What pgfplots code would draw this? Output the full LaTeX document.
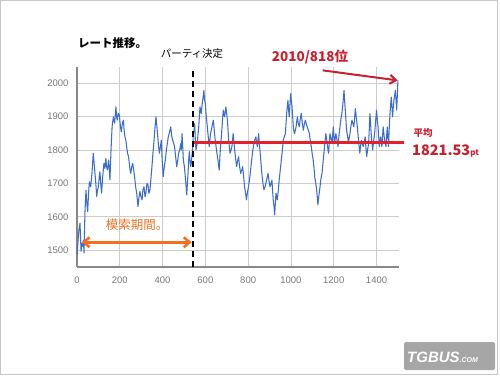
\documentclass[border=0pt]{standalone}
\usepackage{pgfplots}
\pgfplotsset{compat=1.18}
\usetikzlibrary{arrows.meta}
\usepackage{fontspec}
\setmainfont{Liberation Sans}
\newfontfamily\cjk{Noto Sans CJK JP}
\definecolor{lineblue}{HTML}{3A6CCF}
\definecolor{meanred}{HTML}{E3212B}
\definecolor{darkred}{HTML}{C8202F}
\definecolor{orangearr}{HTML}{F37021}
\definecolor{gridgray}{HTML}{CCCCCC}
\definecolor{axgray}{HTML}{888888}
\definecolor{ticklab}{HTML}{777777}
\begin{document}
\begin{tikzpicture}[x=1pt,y=1pt]
\path[use as bounding box] (0,0) rectangle (500,375);
\draw[gray!45] (0.5,0.5) rectangle (497,374.5);
\begin{axis}[
  at={(77pt,108pt)}, anchor=south west,
  scale only axis, width=322pt, height=200pt,
  xmin=0, xmax=1505, ymin=1450, ymax=2048,
  axis lines*=left,
  axis line style={axgray, line width=1.2pt},
  xtick={0,200,...,1400}, ytick={1500,1600,...,2000},
  major tick length=0pt,
  grid=major, major grid style={gridgray, line width=0.8pt},
  tick label style={ticklab, font=\fontsize{9.5}{11}\selectfont},
  /pgf/number format/assume math mode=true,
  /pgf/number format/1000 sep={},
  xticklabel style={yshift=-6pt},
  yticklabel style={xshift=-5pt},
  clip=false,
]
\addplot[lineblue, line width=1.05pt, line join=round] coordinates {
(0,1487)(5,1530)(9,1561)(14,1581)(19,1497)(22,1520)(26,1512)(30,1530)(33,1492)(37,1611)(42,1680)(46,1640)(50,1616)(54,1670)(58,1705)
(64,1690)(70,1730)(76,1790)(80,1760)(84,1730)(88,1700)(92,1661)(96,1680)(100,1690)(104,1720)(107,1735)(111,1700)(115,1671)(120,1720)(126,1760)(130,1745)(135,1775)(138,1750)(142,1740)
(148,1770)(154,1710)(159,1800)(164,1869)(170,1899)(176,1880)(182,1929)(185,1900)(188,1889)(193,1910)(198,1904)(203,1870)(207,1854)(212,1880)(217,1889)(220,1860)(224,1839)
(228,1830)(232,1810)(236,1790)(241,1780)(246,1750)(251,1730)(256,1750)(260,1760)(265,1740)(269,1720)(274,1690)(279,1671)(285,1631)(290,1660)(294,1676)(299,1660)(304,1651)(308,1680)(313,1690)
(318,1660)(322,1671)(327,1700)(332,1695)(336,1670)(341,1681)(345,1710)(349,1740)(355,1790)(360,1829)(365,1870)(369,1899)(375,1859)(380,1820)(385,1790)(390,1810)(394,1829)(398,1770)(403,1720)
(408,1750)(413,1770)(418,1800)(422,1819)(427,1840)(431,1849)(438,1869)(443,1840)(447,1829)(452,1820)(456,1810)(461,1780)(466,1750)(471,1770)(475,1790)(480,1800)(485,1819)(488,1800)(491,1849)
(494,1810)(497,1770)(502,1750)(506,1720)(510,1690)(513,1666)(516,1700)(519,1730)(522,1770)(525,1795)(528,1770)(531,1750)(534,1760)(537,1780)(541,1810)(544,1849)(547,1860)(550,1879)(553,1830)(556,1800)
(559,1810)(562,1820)(566,1850)(569,1869)(572,1900)(575,1929)(578,1915)(581,1909)(584,1930)(587,1948)(590,1960)(593,1978)(596,1950)(600,1938)(603,1910)(606,1889)(609,1870)(612,1849)(615,1830)(618,1810)
(621,1830)(624,1849)(628,1860)(631,1869)(634,1880)(637,1889)(640,1870)(643,1849)(646,1830)(650,1810)(654,1790)(659,1770)(662,1750)(665,1740)(668,1780)(671,1810)(675,1840)(678,1869)(681,1900)(684,1919)
(687,1905)(690,1899)(693,1915)(696,1929)(700,1905)(703,1889)(706,1860)(709,1829)(712,1810)(715,1790)(720,1800)(724,1810)(727,1830)(730,1849)(734,1820)(737,1800)(742,1770)(746,1750)(750,1765)(755,1780)
(760,1750)(765,1730)(770,1740)(774,1750)(779,1720)(783,1690)(788,1670)(792,1651)(796,1670)(799,1681)(804,1700)(808,1720)(813,1750)(818,1780)(822,1800)(827,1819)(831,1830)(836,1839)(840,1820)(843,1810)
(846,1830)(849,1849)(852,1820)(855,1800)(860,1760)(864,1730)(869,1700)(874,1681)(879,1690)(883,1701)(888,1715)(893,1730)(897,1710)(902,1690)(907,1700)(911,1710)(914,1680)(917,1651)(921,1630)(924,1606)
(927,1640)(930,1671)(933,1660)(936,1651)(941,1680)(945,1710)(950,1740)(955,1770)(960,1800)(964,1829)(969,1840)(974,1849)(977,1880)(980,1909)(983,1930)(986,1948)(989,1920)(992,1899)(996,1940)(999,1968)
(1002,1945)(1005,1929)(1008,1900)(1011,1869)(1014,1855)(1017,1849)(1021,1860)(1024,1869)(1027,1885)(1030,1899)(1034,1880)(1039,1869)(1043,1890)(1048,1909)(1053,1880)(1058,1859)(1062,1875)(1067,1889)(1071,1880)(1076,1869)
(1081,1860)(1086,1849)(1090,1830)(1095,1810)(1099,1790)(1104,1770)(1108,1745)(1111,1720)(1116,1700)(1120,1681)(1123,1660)(1126,1636)(1129,1655)(1132,1671)(1136,1690)(1139,1710)(1142,1720)(1145,1730)(1148,1750)(1151,1770)
(1154,1790)(1157,1810)(1160,1830)(1163,1849)(1166,1835)(1170,1819)(1173,1800)(1176,1790)(1179,1820)(1182,1849)(1187,1835)(1192,1819)(1195,1845)(1198,1869)(1201,1840)(1204,1819)(1207,1835)(1210,1849)(1215,1830)(1220,1810)
(1224,1840)(1229,1869)(1233,1890)(1238,1909)(1243,1940)(1248,1978)(1251,1945)(1254,1919)(1257,1890)(1260,1859)(1265,1840)(1269,1819)(1272,1835)(1276,1849)(1280,1870)(1285,1889)(1289,1880)(1294,1869)(1298,1900)(1301,1924)
(1304,1905)(1307,1889)(1310,1870)(1313,1849)(1317,1820)(1322,1790)(1325,1810)(1329,1829)(1333,1820)(1338,1810)(1342,1825)(1347,1839)(1350,1810)(1354,1780)(1358,1800)(1363,1819)(1366,1860)(1369,1909)(1372,1880)(1375,1849)
(1378,1825)(1382,1800)(1386,1825)(1391,1849)(1395,1880)(1400,1919)(1403,1895)(1407,1869)(1410,1840)(1413,1810)(1416,1825)(1419,1839)(1422,1825)(1425,1810)(1428,1840)(1431,1869)(1434,1850)(1438,1829)(1441,1820)(1444,1810)
(1447,1840)(1450,1869)(1453,1840)(1456,1810)(1459,1860)(1463,1909)(1466,1935)(1469,1958)(1472,1930)(1475,1899)(1478,1925)(1481,1948)(1484,1960)(1488,1978)(1491,1950)(1494,1919)(1497,1960)(1500,2008)
};
\draw[black, line width=2.2pt, dash pattern=on 6pt off 4pt] (axis cs:542,1450) -- (axis cs:542,2046);
\draw[meanred, line width=2.5pt] (axis cs:545,1821.53) -- (axis cs:1530,1821.53);
\draw[darkred, line width=2pt, -{Straight Barb[length=6pt,width=9pt]}] (axis cs:1148,2038) -- (axis cs:1498,2008);
\draw[orangearr, line width=2.5pt, {Straight Barb[length=6pt,width=10pt]}-{Straight Barb[length=6pt,width=10pt]}] (axis cs:22,1524) -- (axis cs:536,1524);
\end{axis}
\node[anchor=west, inner sep=0] at (78,332) {\cjk\bfseries\fontsize{11.5}{13}\selectfont レート推移。};
\node[inner sep=0] at (192,321) {\cjk\fontsize{10.5}{12}\selectfont パーティ決定};
\node[inner sep=0, text=darkred] at (310,318) {\cjk\bfseries\fontsize{13.5}{15}\selectfont 2010/818位};
\node[inner sep=0, text=darkred] at (423,242) {\cjk\bfseries\fontsize{9.5}{11}\selectfont 平均};
\node[anchor=west, inner sep=0, text=darkred] at (412,224) {\cjk\bfseries\fontsize{14.5}{16}\selectfont 1821.53{\fontsize{8}{9}\selectfont pt}};
\node[inner sep=0, text=orangearr] at (137,150) {\cjk\fontsize{12.5}{14}\selectfont 模索期間。};
\fill[gray!70, rounded corners=2pt] (404,5) rectangle (495,33);
\node[anchor=west, inner sep=0, text=white] at (407,18) {\bfseries\itshape\fontsize{15}{16}\selectfont TGBUS\fontsize{7}{8}\selectfont .COM};
\end{tikzpicture}
\end{document}
